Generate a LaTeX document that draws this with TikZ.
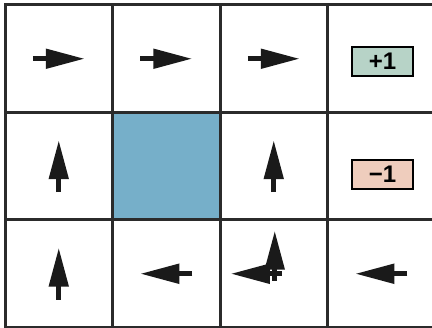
\documentclass[tikz,border=0pt]{standalone}
\usepackage{fontspec}
\setmainfont{Liberation Sans}
\usetikzlibrary{arrows.meta}
\definecolor{gridc}{HTML}{2B2B2B}
\definecolor{wallc}{HTML}{76AFC9}
\definecolor{posc}{HTML}{B7D3C7}
\definecolor{negc}{HTML}{EFCDBD}
\definecolor{arrc}{HTML}{1A1A1A}
\tikzset{
  cell/.style={draw=gridc, line width=3pt, minimum size=107.5pt, inner sep=0pt, outer sep=0pt},
  wall/.style={cell, fill=wallc},
  reward/.style={draw=black, line width=2pt, minimum width=61pt, minimum height=29pt, inner sep=0pt, font=\fontsize{24}{24}\selectfont\bfseries},
  pol/.style={draw=arrc, line width=5pt, -{Triangle[length=39pt,width=19pt,color=arrc]}},
}
\begin{document}
\begin{tikzpicture}[x=1pt,y=-1pt]
\useasboundingbox (0,0) rectangle (432,328);
\begin{scope}
\clip (0,0) rectangle (432,328);
% cells: centres at 5 + 107.5*(i+0.5)
\foreach \r in {0,1,2}{
  \foreach \c in {0,1,2,3}{
    \node[cell] (c\r\c) at ({5+107.5*(\c+0.5)},{5+107.5*(\r+0.5)}) {};
  }
}
\node[wall] (c11b) at (c11) {};
\end{scope}
% rewards
\node[reward, fill=posc] (p1) at (382.5,61.5) {+1};
\node[reward, fill=negc] (m1) at (382.5,174.5) {−1};
% policy arrows
\draw[pol] ([xshift=-26pt]c00.center) -- ([xshift=26pt]c00.center);
\draw[pol] ([xshift=-26pt]c01.center) -- ([xshift=26pt]c01.center);
\draw[pol] ([xshift=-26pt]c02.center) -- ([xshift=26pt]c02.center);
\draw[pol] ([yshift=-26pt]c10.center) -- ([yshift=26pt]c10.center);
\draw[pol] ([yshift=-26pt]c12.center) -- ([yshift=26pt]c12.center);
\draw[pol] ([yshift=-26pt]c20.center) -- ([yshift=26pt]c20.center);
\draw[pol] ([xshift=26pt]c21.center) -- ([xshift=-26pt]c21.center);
\draw[pol] ([xshift=1pt,yshift=-7pt]c22.center) -- ([xshift=1pt,yshift=43pt]c22.center);
\draw[pol] ([xshift=8pt]c22.center) -- ([xshift=-43pt]c22.center);
\draw[pol] ([xshift=26pt]c23.center) -- ([xshift=-26pt]c23.center);
\end{tikzpicture}
\end{document}
